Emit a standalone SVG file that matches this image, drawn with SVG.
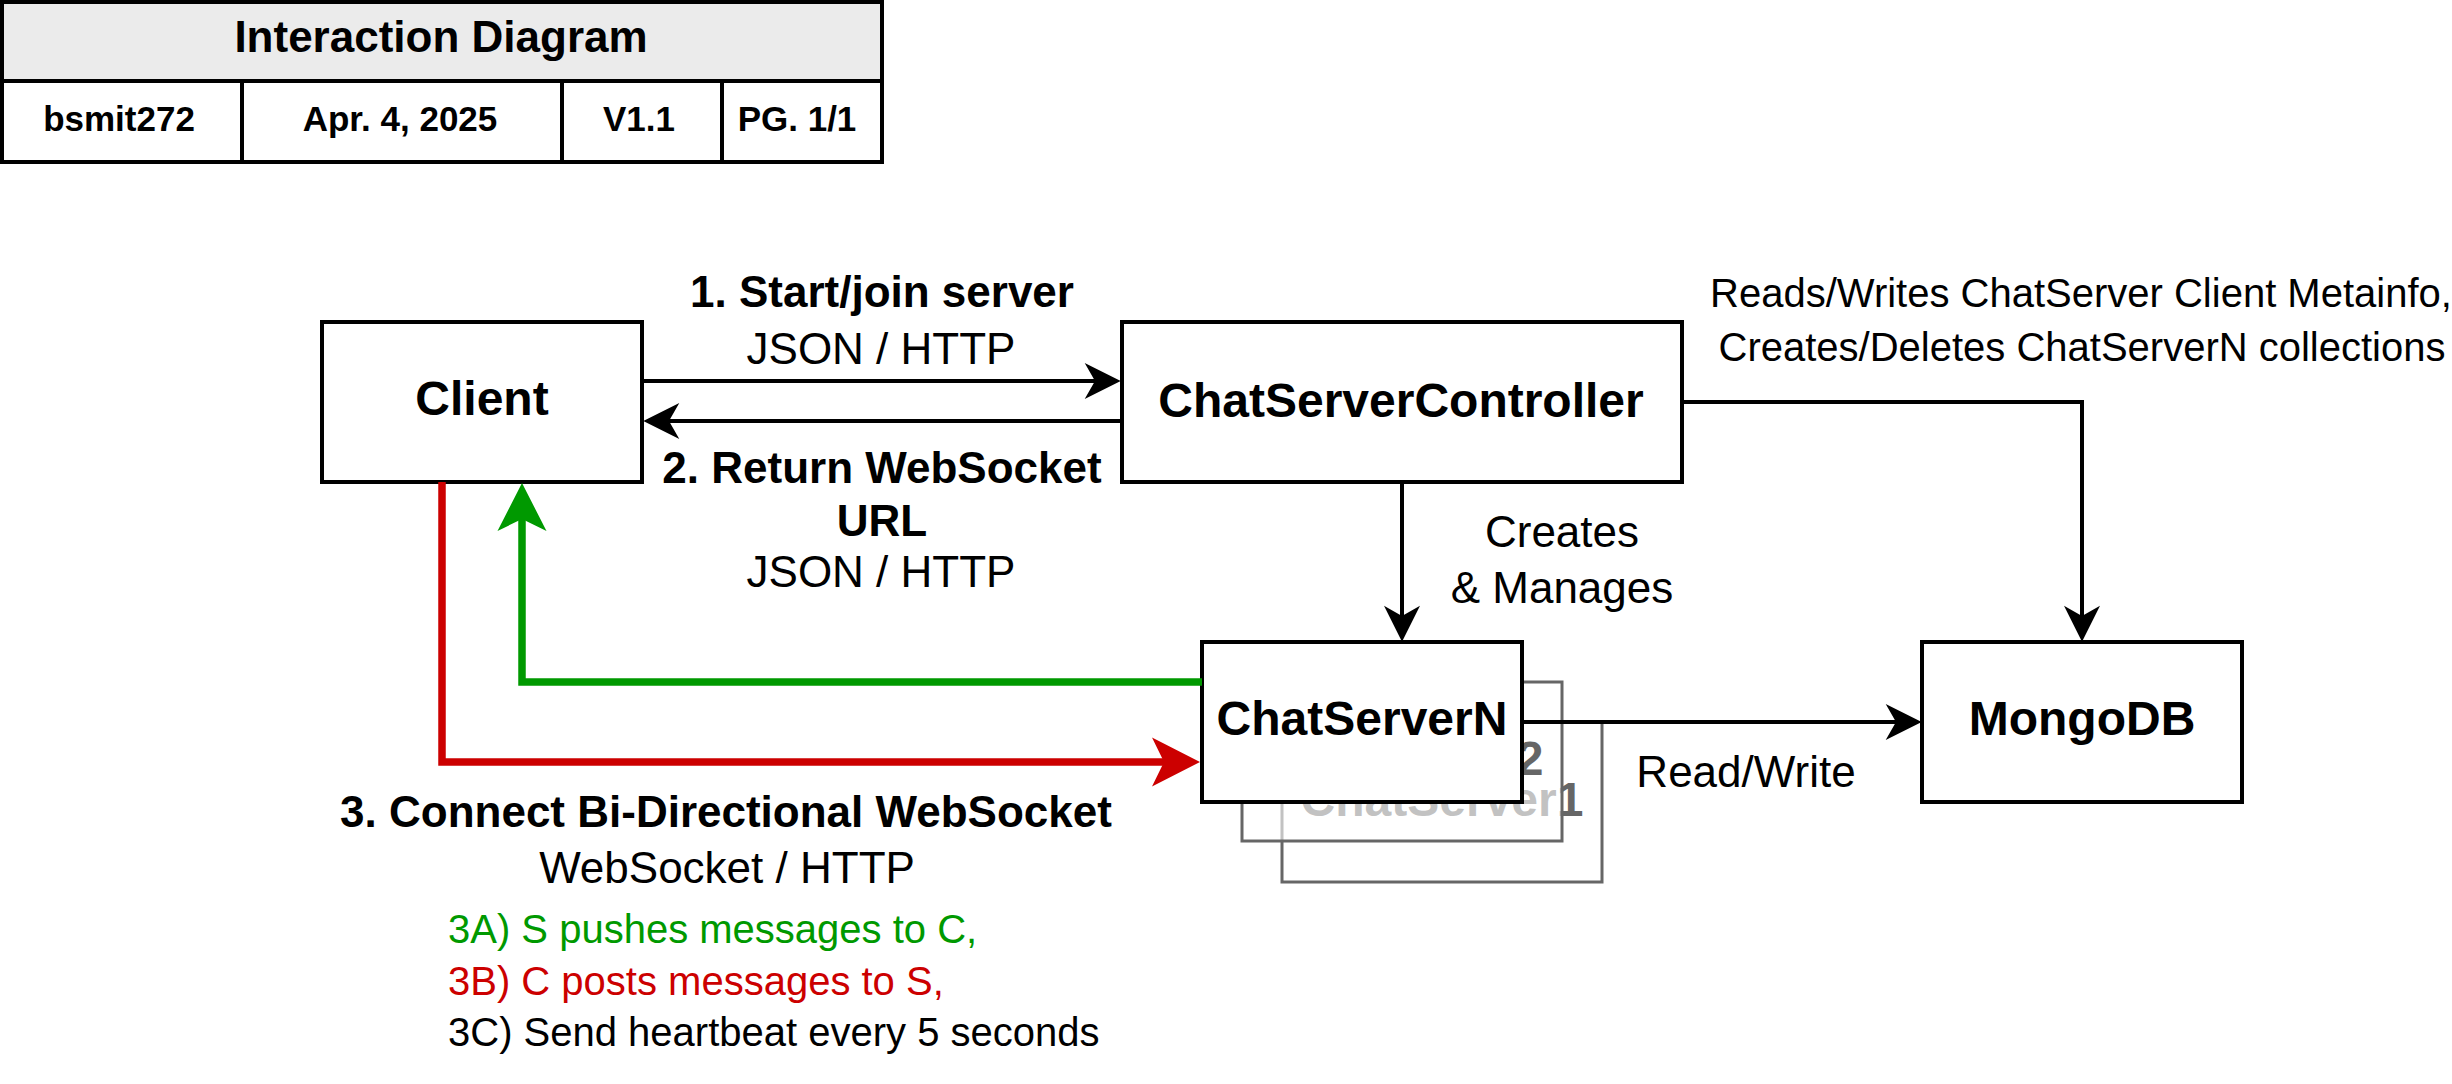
<svg xmlns="http://www.w3.org/2000/svg" width="2452" height="1084" viewBox="0 0 2452 1084">
  <style>
    text { font-family: "Liberation Sans", Arial, Helvetica, sans-serif; fill: #000; }
    .node { fill: #fff; stroke: #000; stroke-width: 4; }
    .ghost { stroke: #666; stroke-width: 3; }
    .lbl48 { font-size: 48px; font-weight: bold; text-anchor: middle; }
    .ghosttxt { fill: #666; }
    .e44 { font-size: 44px; text-anchor: middle; }
    .b { font-weight: bold; }
    .e40 { font-size: 40px; }
    .hdr { font-size: 35px; font-weight: bold; text-anchor: middle; }
    .edge { fill: none; stroke: #000; stroke-width: 4; }
    .wide { fill: none; stroke-width: 7.5; stroke-linejoin: miter; }
  </style>
  <defs>
    <marker id="arrBlack" markerUnits="userSpaceOnUse" markerWidth="36" markerHeight="36" viewBox="0 0 35 35" refX="10" refY="17.5" orient="auto" overflow="visible">
      <path d="M0,0 L35,17.5 L0,35 L10,17.5 Z" fill="#000"/>
    </marker>
    <marker id="arrGreen" markerUnits="userSpaceOnUse" markerWidth="49" markerHeight="49" viewBox="0 0 48 49" refX="12" refY="24.5" orient="auto" overflow="visible">
      <path d="M0,0 L48,24.5 L0,49 L12,24.5 Z" fill="#009900"/>
    </marker>
    <marker id="arrRed" markerUnits="userSpaceOnUse" markerWidth="49" markerHeight="49" viewBox="0 0 48 49" refX="12" refY="24.5" orient="auto" overflow="visible">
      <path d="M0,0 L48,24.5 L0,49 L12,24.5 Z" fill="#CC0000"/>
    </marker>
  </defs>

  <rect width="2452" height="1084" fill="#fff"/>

  <g id="header">
    <rect x="2" y="2" width="880" height="79" fill="#EBEBEB"/>
    <rect x="2" y="2" width="880" height="160" fill="none" stroke="#000" stroke-width="4"/>
    <line x1="2" y1="81" x2="882" y2="81" stroke="#000" stroke-width="4"/>
    <line x1="242" y1="81" x2="242" y2="162" stroke="#000" stroke-width="4"/>
    <line x1="562" y1="81" x2="562" y2="162" stroke="#000" stroke-width="4"/>
    <line x1="722" y1="81" x2="722" y2="162" stroke="#000" stroke-width="4"/>
    <text x="441" y="52" style="font-size:44px;font-weight:bold;text-anchor:middle">Interaction Diagram</text>
    <text class="hdr" x="119" y="131">bsmit272</text>
    <text class="hdr" x="400" y="131">Apr. 4, 2025</text>
    <text class="hdr" x="639" y="131">V1.1</text>
    <text class="hdr" x="797" y="131">PG. 1/1</text>
  </g>

  <g id="client">
    <rect class="node" x="322" y="322" width="320" height="160"/>
    <text class="lbl48" x="482" y="415">Client</text>
  </g>

  <g id="chatservercontroller">
    <rect class="node" x="1122" y="322" width="560" height="160"/>
    <text class="lbl48" x="1401" y="417">ChatServerController</text>
  </g>

  <g id="chatserver1">
    <rect class="ghost" x="1282" y="722" width="320" height="160" fill="#fff"/>
    <text class="lbl48 ghosttxt" x="1442" y="816">ChatServer1</text>
  </g>

  <g id="chatserver2">
    <rect class="ghost" x="1242" y="682" width="320" height="159" fill="#fff" fill-opacity="0.6"/>
    <text class="lbl48 ghosttxt" x="1402" y="775">ChatServer2</text>
  </g>

  <g id="chatserverN">
    <rect class="node" x="1202" y="642" width="320" height="160"/>
    <text class="lbl48" x="1362" y="735">ChatServerN</text>
  </g>

  <g id="mongodb">
    <rect class="node" x="1922" y="642" width="320" height="160"/>
    <text class="lbl48" x="2082" y="735">MongoDB</text>
  </g>

  <g id="connectors">
    <path class="edge" d="M642,381 L1095,381" marker-end="url(#arrBlack)"/>
    <path class="edge" d="M1122,421 L669,421" marker-end="url(#arrBlack)"/>
    <path class="edge" d="M1402,482 L1402,616" marker-end="url(#arrBlack)"/>
    <path class="edge" d="M1682,402 L2082,402 L2082,616" marker-end="url(#arrBlack)"/>
    <path class="edge" d="M1522,722 L1896,722" marker-end="url(#arrBlack)"/>
    <path class="wide" stroke="#009900" d="M1202,682 L522,682 L522,519" marker-end="url(#arrGreen)"/>
    <path class="wide" stroke="#CC0000" d="M442,482 L442,762 L1164,762" marker-end="url(#arrRed)"/>
  </g>

  <g id="labels">
    <text class="e44" x="882" y="307"><tspan class="b">1. Start/join server</tspan><tspan x="881" y="364">JSON / HTTP</tspan></text>
    <text class="e44" x="882" y="483"><tspan class="b">2. Return WebSocket</tspan><tspan class="b" x="882" y="536">URL</tspan><tspan x="881" y="587">JSON / HTTP</tspan></text>
    <text class="e44" x="1562" y="547">Creates<tspan x="1562" y="603">&amp; Manages</tspan></text>
    <text class="e40" x="2081" y="307" text-anchor="middle">Reads/Writes ChatServer Client Metainfo,<tspan x="2082" y="361">Creates/Deletes ChatServerN collections</tspan></text>
    <text class="e44" x="1746" y="787">Read/Write</text>
    <text class="e44" x="726" y="827"><tspan class="b">3. Connect Bi-Directional WebSocket</tspan><tspan x="727" y="883">WebSocket / HTTP</tspan></text>
    <text class="e40" x="448" y="943"><tspan style="fill:#009900">3A) S pushes messages to C,</tspan><tspan x="448" y="995" style="fill:#CC0000">3B) C posts messages to S,</tspan><tspan x="448" y="1046">3C) Send heartbeat every 5 seconds</tspan></text>
  </g>
</svg>
